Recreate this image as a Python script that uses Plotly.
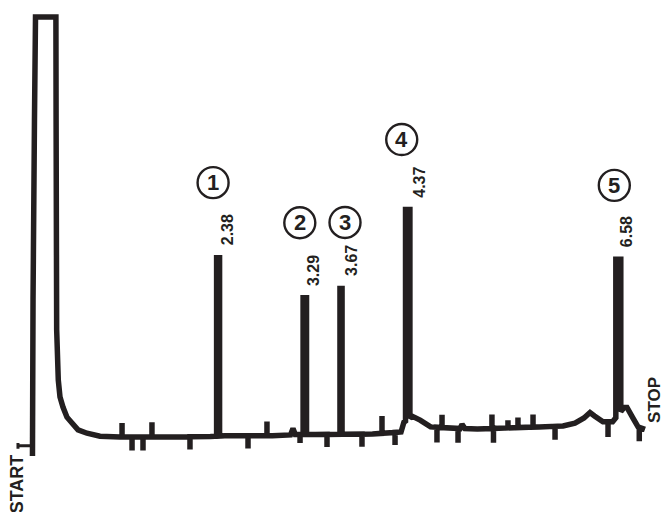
import numpy as np
import plotly.graph_objects as go

INK = "#231f20"

# Labelled peaks: retention time (min) and height (% of recorder full scale)
peak_times = [2.38, 3.29, 3.67, 4.37, 6.58]
peak_heights = [42.5, 33.0, 35.2, 53.9, 42.1]
peak_numbers = ["1", "2", "3", "4", "5"]
peak_half_width = [0.0155, 0.018, 0.011, 0.023, 0.026]

# Solvent front: injection mark, off-scale plateau and tailing back to baseline
solvent_time = [0.432, 0.438, 0.453, 0.464, 0.678, 0.680, 0.686, 0.703,
                0.721, 0.752, 0.794, 0.847, 0.910, 1.004, 1.141]
solvent_resp = [-4.5, 32.5, 75.1, 99.5, 99.5, 75.1, 25.4, 13.5,
                9.5, 7.1, 4.7, 3.3, 1.7, 0.9, 0.2]

# Drifting baseline between the peaks
baseline_time = [1.141, 1.35, 1.9, 2.30, 2.45, 2.95, 3.14, 3.166, 3.19, 3.40,
                 4.0, 4.30, 4.33, 4.42, 4.50, 4.61, 4.92, 4.94, 4.97, 5.1,
                 5.75, 6.0, 6.125, 6.22, 6.283, 6.33, 6.419, 6.52, 6.64,
                 6.671, 6.734, 6.787, 6.86]
baseline_resp = [0.2, 0.0, 0.0, 0.1, 0.3, 0.3, 0.5, 2.0, 0.6, 0.6,
                 0.7, 1.2, 3.5, 4.9, 4.0, 2.4, 2.0, 3.0, 2.0, 1.9,
                 2.4, 2.6, 3.3, 4.5, 5.8, 5.0, 3.6, 3.6, 7.0,
                 7.0, 4.5, 2.4, 1.8]

# Recorder event marks: time and deflection from the baseline
mark_time = [1.372, 1.477, 1.592, 1.686, 2.085, 2.694, 2.893, 3.24, 3.523,
             3.89, 4.10, 4.237, 4.677, 4.730, 4.898, 5.254, 5.27, 5.422,
             5.527, 5.685, 5.916, 6.472, 6.80]
mark_size = [3.3, -3.2, -3.2, 3.5, -3.0, -3.0, 3.4, -2.0, -3.0,
             -3.0, 4.1, -3.0, -3.6, 3.0, -3.4, 3.3, -3.4, 1.8,
             2.4, 3.0, -3.2, -3.6, -3.3]

# Injection (START) bracket
start_time = [0.280, 0.280, 0.280, 0.432]
start_resp = [-1.4, -2.8, -2.1, -2.1]


def level(t):
    return float(np.interp(t, baseline_time, baseline_resp))


# Assemble the recorder trace as ordered segments
segments = [(solvent_time[0], list(zip(solvent_time, solvent_resp)))]
for t, h, hw in zip(peak_times, peak_heights, peak_half_width):
    segments.append((t, [(t - hw, level(t - hw)), (t - hw, h),
                         (t + hw, h), (t + hw, level(t + hw))]))
for t, d in zip(mark_time, mark_size):
    b = level(t)
    segments.append((t, [(t, b), (t, b + d), (t, b)]))
for t, r in zip(baseline_time[1:], baseline_resp[1:]):
    if any(abs(t - pt) <= hw for pt, hw in zip(peak_times, peak_half_width)):
        continue
    segments.append((t, [(t, r)]))
segments.sort(key=lambda s: s[0])
trace_x, trace_y = [], []
for _, pts in segments:
    for x, y in pts:
        trace_x.append(x)
        trace_y.append(y)

fig = go.Figure()
fig.add_trace(go.Scatter(x=trace_x, y=trace_y, mode="lines",
                         line=dict(color=INK, width=5.5, simplify=False),
                         hoverinfo="skip"))
fig.add_trace(go.Scatter(x=start_time, y=start_resp, mode="lines",
                         line=dict(color=INK, width=3, simplify=False),
                         hoverinfo="skip"))

# Retention-time labels and circled peak numbers
badge_offset = [(-5, 75), (-5, 75), (4, 66), (-6, 70), (-4, 74)]
label_shift = [9, 8, 11, 11, 9]
annotations = []
shapes = []
for t, h, num, (dx, dy), lx in zip(peak_times, peak_heights, peak_numbers,
                                   badge_offset, label_shift):
    annotations.append(dict(x=t, y=h, xref="x", yref="y", text=f"{t:.2f}",
                            showarrow=False, textangle=-90,
                            xanchor="center", yanchor="bottom",
                            xshift=lx, yshift=10,
                            font=dict(family="Liberation Sans, Arial", size=16,
                                      color=INK, weight="bold")))
    annotations.append(dict(x=t, y=h, xref="x", yref="y", text=num,
                            showarrow=False, xanchor="center", yanchor="middle",
                            xshift=dx, yshift=dy,
                            font=dict(family="Liberation Sans, Arial", size=22,
                                      color=INK, weight="bold")))
    shapes.append(dict(type="circle", xref="x", yref="y",
                       xsizemode="pixel", ysizemode="pixel",
                       xanchor=t, yanchor=h,
                       x0=dx - 15.5, x1=dx + 15.5, y0=dy - 15.5, y1=dy + 15.5,
                       line=dict(color=INK, width=2.4)))

annotations.append(dict(x=start_time[0], y=start_resp[2], xref="x", yref="y",
                        text="START", showarrow=False, textangle=-90,
                        xanchor="center", yanchor="top", xshift=-1, yshift=-6,
                        font=dict(family="Liberation Sans, Arial", size=18,
                                  color=INK, weight="bold")))
annotations.append(dict(x=trace_x[-1], y=trace_y[-1], xref="x", yref="y",
                        text="STOP", showarrow=False, textangle=-90,
                        xanchor="left", yanchor="bottom", xshift=-2, yshift=5,
                        font=dict(family="Liberation Sans, Arial", size=17,
                                  color=INK, weight="bold")))

fig.update_layout(
    width=663, height=512,
    margin=dict(l=0, r=0, t=0, b=0),
    paper_bgcolor="white", plot_bgcolor="white",
    showlegend=False,
    xaxis=dict(range=[0.0913, 7.049], visible=False, fixedrange=True),
    yaxis=dict(range=[-17.77, 103.55], visible=False, fixedrange=True),
    annotations=annotations,
    shapes=shapes,
)

fig.write_html("out.html")
